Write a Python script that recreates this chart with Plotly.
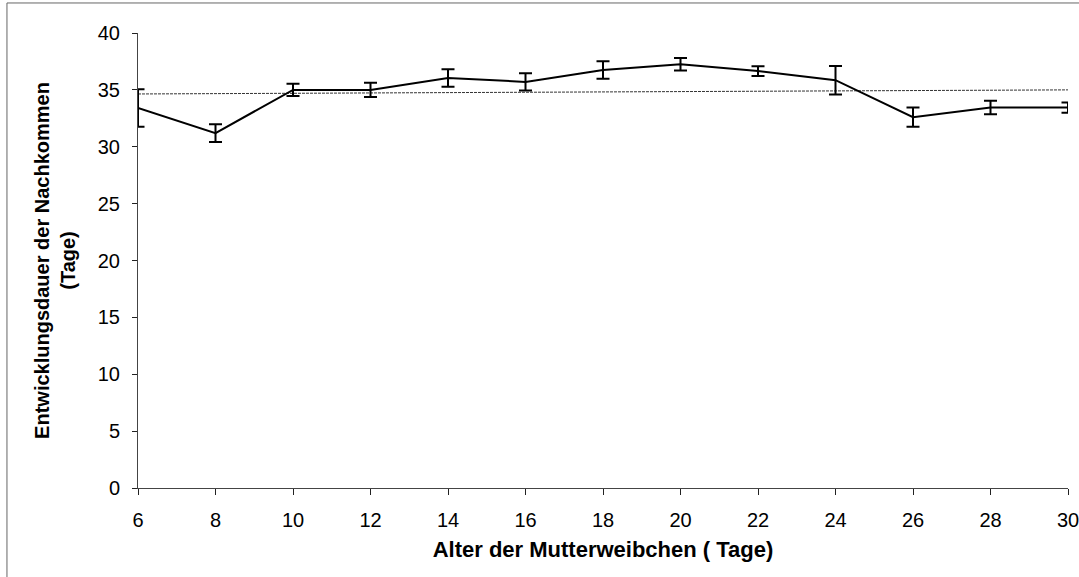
import plotly.graph_objects as go

# Data
alter = [6, 8, 10, 12, 14, 16, 18, 20, 22, 24, 26, 28, 30]
dauer = [33.4, 31.2, 35.0, 35.0, 36.05, 35.7, 36.75, 37.25, 36.65, 35.85, 32.6, 33.45, 33.45]
fehler = [1.65, 0.78, 0.53, 0.62, 0.77, 0.76, 0.77, 0.55, 0.42, 1.25, 0.84, 0.6, 0.45]
trend_x = [6, 30]
trend_y = [34.64, 35.0]
x_ticks = [6, 8, 10, 12, 14, 16, 18, 20, 22, 24, 26, 28, 30]
y_ticks = [0, 5, 10, 15, 20, 25, 30, 35, 40]

FONT = "Liberation Sans, Arial, sans-serif"

fig = go.Figure()
fig.add_trace(go.Scatter(
    x=trend_x, y=trend_y, mode="lines",
    line=dict(color="#333333", width=1, dash="3px,1px"),
    hoverinfo="skip", showlegend=False))
fig.add_trace(go.Scatter(
    x=alter, y=dauer, mode="lines",
    line=dict(color="black", width=2),
    error_y=dict(type="data", array=fehler, visible=True,
                 color="black", thickness=2, width=6.5),
    showlegend=False))

fig.update_layout(
    width=1079, height=577,
    margin=dict(l=138, r=11, t=33, b=89),
    paper_bgcolor="white", plot_bgcolor="white",
    font=dict(family=FONT, size=20, color="black"),
    xaxis=dict(range=[6, 30], tickvals=x_ticks, ticktext=[str(v) for v in x_ticks],
               automargin=False,
               showgrid=False, zeroline=False, showline=True, linecolor="#444444",
               linewidth=1, ticks="outside", ticklen=6, tickcolor="#222222",
               tickfont=dict(size=20), ticklabelstandoff=8, ticklabeloverflow="allow",
               title=dict(text="<b>Alter der Mutterweibchen ( Tage)</b>",
                          font=dict(size=22), standoff=11)),
    yaxis=dict(range=[0, 40], tickvals=y_ticks, ticktext=[str(v) for v in y_ticks],
               automargin=False,
               showgrid=False, zeroline=False, showline=True, linecolor="#444444",
               linewidth=1, ticks="outside", ticklen=5, tickcolor="#222222",
               tickfont=dict(size=20), ticklabelstandoff=8,
               title=dict(text="<b>Entwicklungsdauer der Nachkommen<br>(Tage)</b>",
                          font=dict(size=20), standoff=16)),
    shapes=[dict(type="rect", xref="paper", yref="paper",
                 x0=-0.1409, x1=1.05, y0=-0.25, y1=1.066,
                 line=dict(color="#666666", width=1), fillcolor="rgba(0,0,0,0)",
                 layer="below")],
)

fig.write_html("out.html", config={"displayModeBar": False},
               post_script="document.body.style.margin='0';document.body.style.overflow='hidden';")
